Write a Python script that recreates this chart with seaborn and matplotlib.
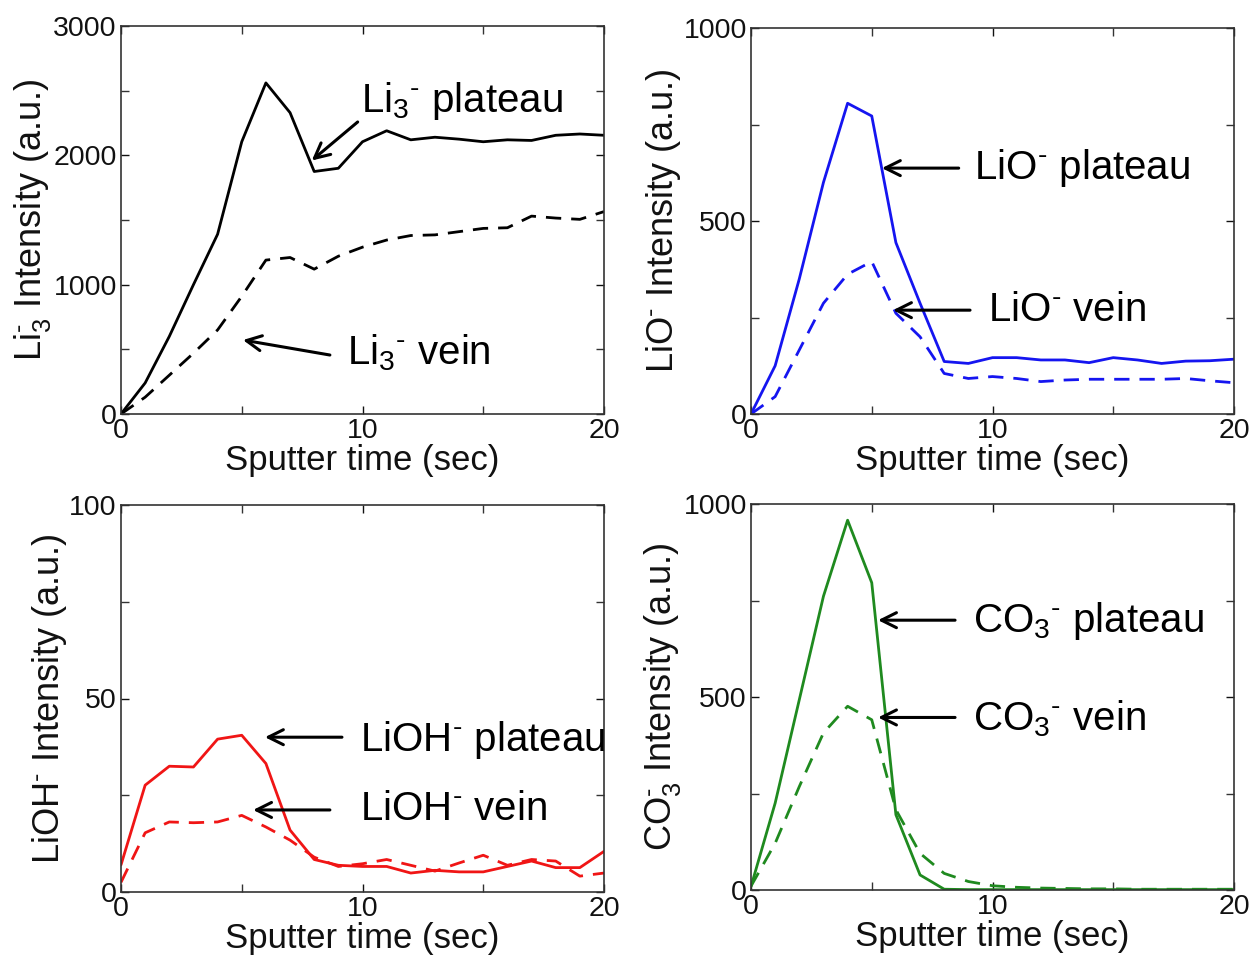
import numpy as np
import pandas as pd
import matplotlib
matplotlib.use("Agg")
import matplotlib.pyplot as plt
from matplotlib.ticker import MultipleLocator
import seaborn as sns

# ---------------- data ----------------
time_s = list(range(0, 21))

li3_plateau = [0, 240, 600, 1000, 1390, 2105, 2560, 2330, 1875, 1900, 2105,
               2190, 2120, 2140, 2125, 2105, 2120, 2115, 2155, 2165, 2155]
li3_vein = [0, 130, 300, 470, 650, 910, 1190, 1210, 1120, 1220, 1290,
            1345, 1380, 1385, 1410, 1435, 1440, 1530, 1515, 1505, 1565]

lio_plateau = [0, 125, 350, 600, 805, 772, 444, 287, 136, 131, 146,
               146, 140, 140, 133, 146, 140, 131, 137, 138, 142]
lio_vein = [0, 45, 166, 287, 362, 395, 261, 200, 105, 92, 97,
            92, 84, 88, 90, 90, 90, 90, 92, 86, 81]

lioh_plateau = [7, 27.6, 32.5, 32.3, 39.5, 40.5, 33.2, 16, 8.4, 6.9, 6.6,
                6.6, 4.9, 5.6, 5.2, 5.2, 6.6, 8.0, 6.3, 6.3, 10.5]
lioh_vein = [2.5, 15.3, 18.1, 17.9, 18.1, 19.8, 16.8, 13.4, 9, 6.6, 7.3,
             8.4, 6.9, 5.4, 7.5, 9.5, 6.9, 8.4, 8.0, 4.1, 4.9]

co3_plateau = [9, 225, 493, 761, 958, 796, 195, 39, 2, 1, 1,
               1, 1, 1, 1, 1, 1, 1, 1, 1, 1]
co3_vein = [10, 121, 268, 407, 476, 441, 208, 95, 43, 22, 11,
            7, 5, 4, 3, 3, 2, 2, 2, 2, 2]

ylabels = [r"Li$_3^{\text{-}}$ Intensity (a.u.)", r"LiO$^{\text{-}}$ Intensity (a.u.)",
           r"LiOH$^{\text{-}}$ Intensity (a.u.)", r"CO$_3^{\text{-}}$ Intensity (a.u.)"]
plateau_labels = [r"Li$_3$$^{\text{-}}$ plateau", r"LiO$^{\text{-}}$ plateau",
                  r"LiOH$^{\text{-}}$ plateau", r"CO$_3$$^{\text{-}}$ plateau"]
vein_labels = [r"Li$_3$$^{\text{-}}$ vein", r"LiO$^{\text{-}}$ vein",
               r"LiOH$^{\text{-}}$ vein", r"CO$_3$$^{\text{-}}$ vein"]
xlabel = "Sputter time (sec)"
colors = ["#000000", "#1515f0", "#f01515", "#1f8a1f"]
ymax = [3000, 1000, 100, 1000]
ymajor = [1000, 500, 50, 500]
yminor = [500, 250, 25, 250]

# annotation anchor points (data units): (arrow head, arrow tail, text position)
plateau_ann = [((7.9, 1960), (9.8, 2258), (9.95, 2420)),
               ((5.42, 637), (8.6, 637), (9.25, 637)),
               ((5.96, 40), (9.15, 40), (9.9, 39.3)),
               ((5.26, 699), (8.45, 699), (9.2, 697))]
vein_ann = [((5.05, 572), (8.65, 456), (9.35, 472)),
            ((5.88, 269), (9.07, 269), (9.8, 269)),
            ((5.47, 21.2), (8.65, 21.2), (9.9, 21.5)),
            ((5.26, 447), (8.45, 447), (9.2, 443))]

sns.set_theme(style="ticks")
plt.rcParams["font.family"] = ["Liberation Sans", "DejaVu Sans"]
plt.rcParams["mathtext.fontset"] = "custom"
plt.rcParams["mathtext.rm"] = "Liberation Sans"
plt.rcParams["mathtext.it"] = "Liberation Sans:italic"
plt.rcParams["mathtext.bf"] = "Liberation Sans:bold"
plt.rcParams["mathtext.default"] = "regular"

fig = plt.figure(figsize=(12.54, 9.57), dpi=100)
fig.patch.set_facecolor("white")
positions = [
    [121 / 1254, (957 - 414) / 957, 483 / 1254, 388 / 957],
    [751 / 1254, (957 - 414) / 957, 483 / 1254, 386 / 957],
    [121 / 1254, (957 - 892) / 957, 483 / 1254, 387 / 957],
    [751 / 1254, (957 - 890) / 957, 483 / 1254, 386 / 957],
]
series = [(li3_plateau, li3_vein), (lio_plateau, lio_vein),
          (lioh_plateau, lioh_vein), (co3_plateau, co3_vein)]

for i in range(4):
    ax = fig.add_axes(positions[i])
    ax.set_facecolor("white")
    plat, vein = series[i]
    df = pd.DataFrame({"t": time_s, "plateau": plat, "vein": vein})
    sns.lineplot(data=df, x="t", y="plateau", ax=ax, color=colors[i], lw=2.0)
    sns.lineplot(data=df, x="t", y="vein", ax=ax, color=colors[i], lw=2.0,
                 linestyle=(0, (5.5, 3.6)))
    ax.set_xlim(0, 20)
    ax.set_ylim(0, ymax[i])
    ax.xaxis.set_major_locator(MultipleLocator(10))
    ax.xaxis.set_minor_locator(MultipleLocator(5))
    ax.yaxis.set_major_locator(MultipleLocator(ymajor[i]))
    ax.yaxis.set_minor_locator(MultipleLocator(yminor[i]))
    ax.tick_params(which="both", direction="in", top=True, right=True,
                   length=6, width=1, color="#333333")
    ax.tick_params(which="major", labelsize=20.5, pad=3, colors="#111111")
    for sp in ax.spines.values():
        sp.set_linewidth(1.2)
        sp.set_color("#333333")
    ax.set_xlabel(xlabel, fontsize=25, labelpad=0, color="#111111")
    ax.set_ylabel(ylabels[i], fontsize=26, labelpad=0, color="#111111")

    for (head, tail, txt), lab in ((plateau_ann[i], plateau_labels[i]),
                                   (vein_ann[i], vein_labels[i])):
        ax.annotate("", xy=head, xytext=tail,
                    arrowprops=dict(arrowstyle="->,head_length=0.9,head_width=0.45",
                                    lw=2.2, color="black", shrinkA=0, shrinkB=0))
        ax.text(txt[0], txt[1], lab, fontsize=29, ha="left", va="center",
                color="black")

fig.savefig("out.png", dpi=100, facecolor="white")
